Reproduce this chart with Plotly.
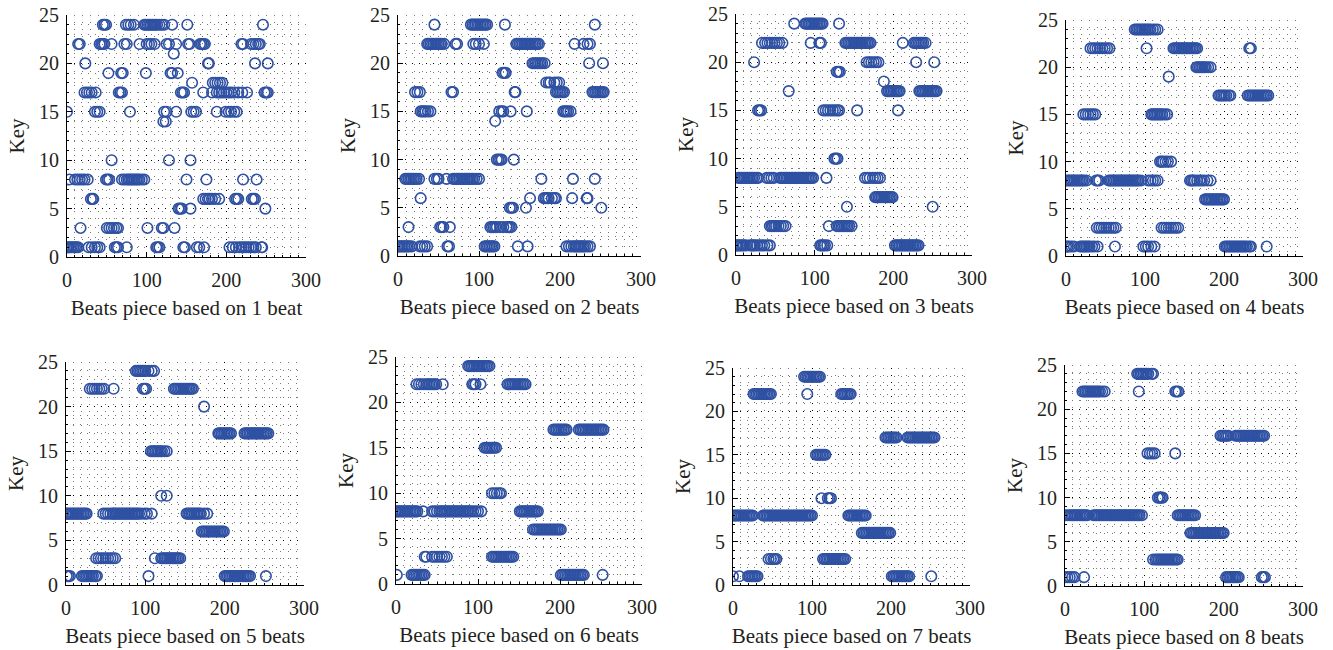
import plotly.graph_objects as go

# ---------------- data ----------------
panel_titles = [
    "Beats piece based on 1 beat", "Beats piece based on 2 beats",
    "Beats piece based on 3 beats", "Beats piece based on 4 beats",
    "Beats piece based on 5 beats", "Beats piece based on 6 beats",
    "Beats piece based on 7 beats", "Beats piece based on 8 beats",
]
y_title = "Key"
x_ticks = [0, 100, 200, 300]
y_ticks = [0, 5, 10, 15, 20, 25]

# key -> beat-piece indices
beats1 = {
    24: [45, 47, 49, 74, 77, 80, 84, 97, 99, 101, 103, 105, 107, 109, 111, 113, 116, 119, 122, 132, 151, 246],
    22: [14, 16, 41, 43, 45, 47, 56, 72, 75, 91, 100, 103, 106, 110, 125, 128, 137, 152, 154, 167, 169, 171, 173,
         219, 221, 231, 234, 237, 240, 242],
    21: [134],
    20: [23, 177, 178, 236, 252],
    19: [52, 68, 70, 99, 130, 132, 139],
    18: [157, 183, 186, 189, 192, 195],
    17: [22, 25, 28, 31, 36, 65, 67, 69, 143, 145, 147, 171, 182, 188, 191, 194, 197, 200, 203, 206, 210, 215, 220,
         226, 248, 250, 252],
    15: [0, 35, 38, 41, 79, 122, 125, 137, 156, 159, 162, 188, 199, 203, 206, 210, 213],
    14: [121, 124],
    10: [56, 128, 155],
    8: [3, 10, 13, 16, 19, 22, 26, 49, 51, 53, 69, 72, 75, 77, 79, 81, 83, 85, 87, 89, 91, 94, 97, 150, 175, 221, 238],
    6: [30, 32, 33, 171, 174, 177, 179, 182, 186, 191, 211, 213, 215, 232, 234, 236],
    5: [140, 142, 144, 155, 249],
    3: [17, 50, 53, 56, 59, 62, 64, 101, 119, 121, 135],
    1: [0, 2, 4, 6, 8, 10, 12, 14, 27, 31, 35, 38, 41, 60, 62, 64, 75, 112, 114, 116, 146, 148, 163, 166, 172,
        204, 208, 212, 216, 219, 222, 225, 228, 231, 234, 237, 244, 245],
}
beats2 = {
    24: [45, 90, 92, 94, 96, 98, 100, 102, 104, 106, 108, 110, 132, 243],
    22: [36, 38, 40, 42, 44, 46, 48, 50, 52, 54, 57, 71, 73, 93, 96, 100, 106, 146, 148, 150, 152, 154, 156, 158,
         160, 162, 164, 166, 168, 170, 172, 174, 218, 229, 234, 237],
    20: [166, 168, 170, 172, 174, 176, 178, 181, 236, 253],
    19: [129, 131, 133],
    18: [183, 186, 188, 193, 196, 199],
    17: [21, 24, 27, 66, 68, 144, 145, 195, 197, 199, 201, 203, 205, 240, 242, 244, 246, 248, 250, 252, 254],
    15: [28, 30, 32, 34, 37, 40, 125, 128, 130, 139, 159, 204, 206, 208, 210, 213],
    14: [120],
    10: [122, 124, 126, 128, 143],
    8: [9, 11, 13, 15, 17, 19, 21, 23, 26, 45, 48, 50, 60, 68, 70, 72, 74, 76, 78, 80, 82, 84, 86, 88, 90, 92, 94,
        97, 100, 177, 216, 243],
    6: [28, 163, 180, 182, 184, 186, 190, 193, 195, 215, 233, 234],
    5: [138, 140, 142, 158, 251],
    3: [13, 52, 54, 56, 64, 114, 116, 118, 120, 122, 126, 130, 134, 136, 138, 140],
    1: [0, 2, 4, 6, 8, 10, 12, 14, 17, 27, 30, 33, 36, 61, 63, 107, 109, 111, 113, 115, 117, 119, 148, 160,
        208, 211, 214, 217, 219, 221, 223, 225, 227, 229, 231, 234, 237],
}
beats3 = {
    24: [74, 88, 90, 92, 94, 96, 98, 100, 102, 104, 106, 108, 110, 131],
    22: [33, 37, 40, 43, 46, 49, 52, 55, 59, 95, 106, 108, 139, 141, 143, 145, 147, 149, 151, 153, 155, 157, 159,
         161, 163, 165, 167, 169, 171, 212, 226, 228, 230, 232, 234, 236, 238, 241],
    20: [23, 166, 169, 172, 175, 178, 181, 229, 252],
    19: [128, 130, 132],
    18: [188],
    17: [67, 192, 194, 196, 198, 200, 202, 204, 206, 208, 233, 235, 237, 239, 241, 243, 245, 247, 249, 251, 253, 255],
    15: [28, 30, 32, 111, 114, 117, 120, 123, 126, 129, 131, 154, 206],
    10: [125, 127, 129],
    8: [3, 5, 7, 9, 11, 13, 15, 17, 19, 21, 23, 26, 28, 39, 42, 45, 48, 56, 58, 60, 62, 64, 66, 68, 70, 72, 74, 76,
        78, 80, 82, 84, 86, 88, 90, 92, 94, 96, 98, 115, 164, 167, 170, 174, 177, 180, 183],
    6: [177, 179, 181, 183, 185, 187, 189, 191, 193, 195, 197, 199],
    5: [141, 250],
    3: [43, 45, 47, 49, 51, 54, 57, 60, 63, 118, 128, 130, 132, 134, 136, 138, 140, 142, 144, 147],
    1: [0, 2, 4, 6, 8, 10, 13, 18, 20, 22, 24, 27, 30, 33, 36, 40, 43, 107, 109, 111, 113, 116, 202, 204, 206, 208,
        210, 212, 214, 216, 218, 220, 222, 224, 226, 228, 230, 232],
}
beats4 = {
    24: [87, 89, 91, 93, 95, 97, 99, 101, 103, 105, 107, 110, 113, 116],
    22: [31, 34, 37, 40, 43, 46, 49, 52, 55, 102, 136, 138, 140, 142, 144, 146, 148, 150, 152, 154, 156, 158, 160,
         162, 164, 166, 232, 234],
    20: [165, 167, 169, 171, 173, 175, 177, 180, 183],
    19: [130],
    17: [193, 195, 197, 199, 201, 203, 206, 208, 230, 232, 234, 236, 238, 240, 242, 244, 246, 248, 250, 252, 254, 256],
    15: [22, 25, 28, 31, 34, 37, 108, 110, 112, 114, 116, 118, 120, 122, 125, 128],
    10: [119, 121, 123, 126, 129, 133],
    8: [1, 3, 5, 7, 9, 11, 13, 15, 17, 19, 21, 23, 26, 38, 40, 42, 54, 56, 58, 60, 62, 64, 66, 68, 70, 72, 74, 76,
        78, 80, 82, 84, 86, 88, 90, 92, 95, 104, 107, 110, 113, 116, 157, 159, 161, 163, 166, 169, 172, 175, 179, 183],
    6: [176, 178, 180, 182, 184, 186, 188, 190, 192, 194, 196, 198, 200],
    3: [39, 42, 45, 48, 51, 54, 57, 60, 63, 121, 124, 127, 130, 133, 136, 139, 142],
    1: [0, 2, 4, 7, 10, 18, 20, 22, 24, 26, 28, 30, 33, 36, 40, 62, 98, 101, 104, 108, 112, 201, 203, 205, 207, 209,
        211, 213, 215, 217, 219, 221, 223, 225, 227, 229, 232, 234, 254],
}
beats5 = {
    24: [88, 90, 92, 94, 96, 98, 100, 104, 108, 111],
    22: [30, 33, 36, 39, 42, 45, 48, 60, 97, 99, 101, 136, 138, 140, 142, 144, 146, 148, 150, 152, 154, 156, 158, 160],
    20: [174],
    17: [192, 194, 196, 198, 200, 202, 204, 206, 208, 225, 227, 229, 231, 233, 235, 237, 239, 241, 243, 245, 247,
         249, 251, 253, 255],
    15: [107, 109, 111, 113, 115, 117, 119, 121, 124, 127],
    10: [120, 127],
    8: [0, 2, 4, 6, 8, 10, 12, 14, 16, 18, 20, 22, 24, 26, 47, 50, 53, 56, 59, 60, 62, 64, 66, 68, 70, 72, 74, 76,
        78, 80, 82, 84, 86, 88, 90, 92, 95, 99, 102, 108, 152, 154, 156, 158, 160, 162, 164, 166, 168, 170, 174, 178],
    6: [171, 173, 175, 177, 179, 181, 183, 185, 187, 189, 191, 193, 195, 197, 199],
    3: [38, 41, 44, 47, 50, 53, 56, 59, 62, 112, 120, 122, 124, 126, 128, 130, 132, 134, 136, 138, 140, 142, 144],
    1: [1, 3, 5, 20, 22, 24, 26, 28, 30, 32, 34, 37, 39, 104, 200, 202, 204, 206, 208, 210, 212, 214, 216, 218, 220,
        222, 224, 226, 228, 230, 232, 252],
}
beats6 = {
    24: [88, 90, 92, 94, 96, 98, 100, 102, 104, 106, 108, 110, 112, 114],
    22: [25, 28, 31, 34, 37, 39, 41, 43, 45, 47, 49, 57, 93, 95, 97, 103, 136, 138, 140, 142, 144, 146, 148, 150,
         152, 154, 156, 158],
    17: [192, 194, 196, 198, 200, 202, 204, 206, 208, 223, 225, 227, 229, 231, 233, 235, 237, 239, 241, 243, 245,
         247, 249, 251, 253],
    15: [108, 110, 112, 114, 116, 118, 120, 122],
    10: [117, 120, 123, 126, 128],
    8: [0, 2, 4, 6, 8, 10, 12, 14, 16, 18, 20, 22, 24, 26, 33, 44, 47, 50, 53, 55, 57, 59, 61, 63, 65, 67, 69, 71,
        73, 75, 77, 79, 81, 83, 85, 87, 89, 91, 94, 97, 100, 104, 151, 153, 155, 157, 159, 161, 163, 165, 167, 169,
        171, 173],
    6: [167, 169, 171, 173, 175, 177, 179, 181, 183, 185, 187, 189, 191, 193, 195, 197, 199, 201],
    3: [35, 37, 44, 47, 50, 53, 56, 59, 62, 117, 119, 121, 123, 125, 127, 129, 131, 133, 135, 137, 139, 141, 143],
    1: [1, 19, 21, 23, 25, 27, 29, 31, 33, 35, 201, 203, 205, 207, 209, 211, 213, 215, 217, 219, 221, 223, 225, 227,
        229, 252],
}
beats7 = {
    24: [90, 92, 94, 96, 98, 100, 102, 104, 106, 108, 110],
    22: [26, 28, 30, 32, 34, 36, 38, 40, 42, 44, 46, 48, 94, 137, 139, 141, 143, 145, 147, 149],
    17: [193, 195, 197, 199, 201, 203, 205, 207, 221, 223, 225, 227, 229, 231, 233, 235, 237, 239, 241, 243, 245,
         247, 249, 251, 253, 255],
    15: [105, 107, 109, 111, 113, 115, 117],
    10: [112, 120, 122, 124],
    8: [1, 3, 5, 7, 9, 11, 13, 15, 17, 19, 21, 23, 25, 38, 40, 42, 44, 46, 48, 50, 52, 54, 56, 58, 60, 62, 64, 66,
        68, 70, 72, 74, 76, 78, 80, 82, 84, 86, 88, 90, 92, 94, 96, 98, 100, 146, 148, 150, 152, 154, 156, 158, 160,
        162, 164, 166, 168],
    6: [163, 165, 167, 169, 171, 173, 175, 177, 179, 181, 183, 185, 187, 189, 191, 193, 195, 197, 199],
    3: [45, 48, 51, 53, 55, 114, 116, 118, 120, 122, 124, 126, 128, 130, 132, 134, 136, 138, 140, 142],
    1: [0, 8, 19, 21, 23, 25, 27, 29, 31, 201, 203, 205, 207, 209, 211, 213, 215, 217, 219, 221, 223, 251],
}
beats8 = {
    24: [91, 93, 95, 97, 99, 101, 103, 105, 109, 111],
    22: [22, 24, 26, 28, 30, 32, 34, 36, 38, 40, 42, 44, 47, 50, 93, 139, 141, 143],
    17: [196, 198, 200, 202, 204, 206, 215, 217, 219, 221, 223, 225, 227, 229, 231, 233, 235, 237, 239, 241, 243,
         245, 247, 249, 251],
    15: [104, 107, 110, 113, 139],
    10: [117, 119, 121, 123],
    8: [0, 3, 6, 8, 10, 12, 14, 16, 18, 20, 22, 24, 26, 28, 36, 38, 40, 42, 44, 46, 48, 50, 52, 54, 56, 58, 60, 62,
        64, 66, 68, 70, 72, 74, 76, 78, 80, 82, 84, 86, 88, 90, 92, 94, 97, 142, 144, 146, 148, 150, 152, 154, 156,
        158, 160, 162, 164],
    6: [158, 160, 162, 164, 166, 168, 170, 172, 174, 176, 178, 180, 182, 184, 186, 188, 190, 192, 194, 196, 198, 200],
    3: [111, 114, 116, 118, 120, 122, 124, 126, 128, 130, 132, 134, 136, 138, 140, 142],
    1: [0, 3, 6, 9, 12, 24, 203, 205, 207, 209, 211, 213, 215, 217, 219, 248, 250, 252],
}
panels = [beats1, beats2, beats3, beats4, beats5, beats6, beats7, beats8]

# ---------------- layout ----------------
W, H = 1333, 650
# plot-area boxes in pixels: left, right, top, bottom
boxes = [(67, 306, 15, 257), (398, 641, 15, 256), (736, 972, 14, 255), (1066, 1303, 20, 256),
         (66, 304, 362, 585), (396, 642, 357, 584), (733, 970, 368, 585), (1065, 1303, 365, 586)]

BLUE = "#2F51A3"
FONT = "Liberation Serif"

fig = go.Figure()
layout = dict(
    width=W, height=H, margin=dict(l=0, r=0, t=0, b=0, autoexpand=False),
    paper_bgcolor="white", plot_bgcolor="white", showlegend=False,
    font=dict(family=FONT, color="#231F20", size=20),
)

for i, (data, title, box) in enumerate(zip(panels, panel_titles, boxes)):
    n = "" if i == 0 else str(i + 1)
    xs, ys = [], []
    for key, vals in data.items():
        xs.extend(vals)
        ys.extend([key] * len(vals))
    fig.add_trace(go.Scatter(
        x=xs, y=ys, mode="markers", xaxis="x" + n, yaxis="y" + n,
        marker=dict(symbol="circle-open", size=10.5, color=BLUE, line=dict(width=1.6, color=BLUE)),
        hoverinfo="x+y",
    ))
    l, r, t, b = box
    layout["xaxis" + n] = dict(
        domain=[l / W, r / W], anchor="y" + n, range=[0, 300], tickvals=x_ticks, automargin=False,
        showline=True, linecolor="black", linewidth=1.2, ticks="inside", ticklen=5, tickcolor="black",
        showgrid=True, gridcolor="black", gridwidth=1.1, griddash="1px,6px", zeroline=False,
        minor=dict(dtick=10, showgrid=True, gridcolor="#777777", gridwidth=0.8, griddash="1px,6px",
                   ticks="inside", ticklen=2, tickcolor="black"),
        tickfont=dict(size=20), ticklabelstandoff=5,
        title=dict(text=title, font=dict(size=21), standoff=10),
    )
    layout["yaxis" + n] = dict(
        domain=[1 - b / H, 1 - t / H], anchor="x" + n, range=[0, 25], tickvals=y_ticks, automargin=False,
        showline=True, linecolor="black", linewidth=1.2, ticks="inside", ticklen=5, tickcolor="black",
        showgrid=True, gridcolor="black", gridwidth=1.1, griddash="1px,6px", zeroline=False,
        minor=dict(dtick=1, showgrid=True, gridcolor="#777777", gridwidth=0.8, griddash="1px,6px",
                   ticks="inside", ticklen=2, tickcolor="black"),
        tickfont=dict(size=20), ticklabelstandoff=3,
        title=dict(text=y_title, font=dict(size=21), standoff=8),
    )

fig.update_layout(**layout)
fig.write_html("out.html", include_plotlyjs=True, config={"displayModeBar": False},
               post_script="document.body.style.margin='0';document.body.style.overflow='hidden';")
